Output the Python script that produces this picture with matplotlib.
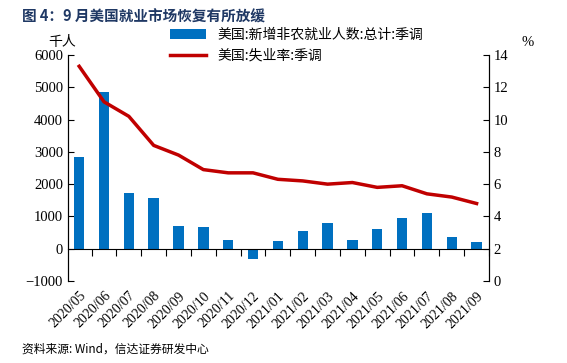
import matplotlib.pyplot as plt
import numpy as np

plt.rcParams['font.family'] = ['Liberation Serif', 'Noto Sans CJK SC', 'DejaVu Sans']

months = ['2020/05', '2020/06', '2020/07', '2020/08', '2020/09', '2020/10',
          '2020/11', '2020/12', '2021/01', '2021/02', '2021/03', '2021/04',
          '2021/05', '2021/06', '2021/07', '2021/08', '2021/09']
payrolls = [2833, 4846, 1726, 1583, 716, 680, 264, -306, 233, 536, 785, 269,
            614, 962, 1091, 366, 194]
unemployment = [13.3, 11.1, 10.2, 8.4, 7.8, 6.9, 6.7, 6.7, 6.3, 6.2, 6.0, 6.1,
                5.8, 5.9, 5.4, 5.2, 4.8]

cjk = ['Noto Sans CJK SC', 'DejaVu Sans']
blue = '#0070C0'
red = '#C00000'

fig = plt.figure(figsize=(5.67, 3.63), dpi=100)
ax = fig.add_axes([68 / 567, 1 - 281 / 363, (489 - 68) / 567, (281 - 55) / 363])
x = np.arange(len(months))

bars = ax.bar(x, payrolls, width=0.42, color=blue, zorder=2,
              label='美国:新增非农就业人数:总计:季调')
ax.set_xlim(-0.45, len(months) - 0.55)
ax.set_ylim(-1000, 6000)
ax.set_yticks(np.arange(-1000, 6001, 1000))
ax.tick_params(axis='y', direction='in', length=4, labelsize=10.5)

# zero line with ticks hanging between categories
ax.spines['top'].set_visible(False)
ax.spines['bottom'].set_position(('data', 0))
ax.set_xticks(x + 0.5)
ax.tick_params(axis='x', direction='out', length=5, labelbottom=False)

# month labels sit below the plot area
sec = ax.secondary_xaxis('bottom')
sec.set_xticks(x)
sec.set_xticklabels(months, rotation=45, ha='right', rotation_mode='anchor',
                    fontsize=10)
sec.tick_params(length=0, pad=6)
sec.spines['bottom'].set_visible(False)

ax2 = ax.twinx()
line, = ax2.plot(x, unemployment, color=red, lw=2.5, solid_joinstyle='round',
                 label='美国:失业率:季调')
ax2.set_ylim(0, 14)
ax2.set_yticks(np.arange(0, 15, 2))
ax2.tick_params(axis='y', direction='in', length=4, labelsize=10.5)
ax2.spines['top'].set_visible(False)
ax2.spines['bottom'].set_visible(False)

fig.legend([bars, line], [bars.get_label(), line.get_label()],
           loc='upper left', bbox_to_anchor=(170 / 567, 1 - 28 / 363),
           frameon=False, prop={'family': cjk, 'size': 10},
           handlelength=2.6, labelspacing=0.5, borderaxespad=0, borderpad=0)

fig.text(22 / 567, 1 - 17 / 363, '图 4：9 月美国就业市场恢复有所放缓',
         family=cjk, fontsize=10.5, fontweight='bold', color='#1F3864',
         va='center')
fig.text(62 / 567, 1 - 42 / 363, '千人', family=cjk, fontsize=10,
         ha='center', va='center')
fig.text(528 / 567, 1 - 42 / 363, '%', fontsize=10.5, ha='center', va='center')
fig.text(22 / 567, 1 - 349 / 363, '资料来源: Wind，信达证券研发中心',
         family=cjk, fontsize=8.5, style='italic', va='center')

fig.savefig('out.png', dpi=100)
